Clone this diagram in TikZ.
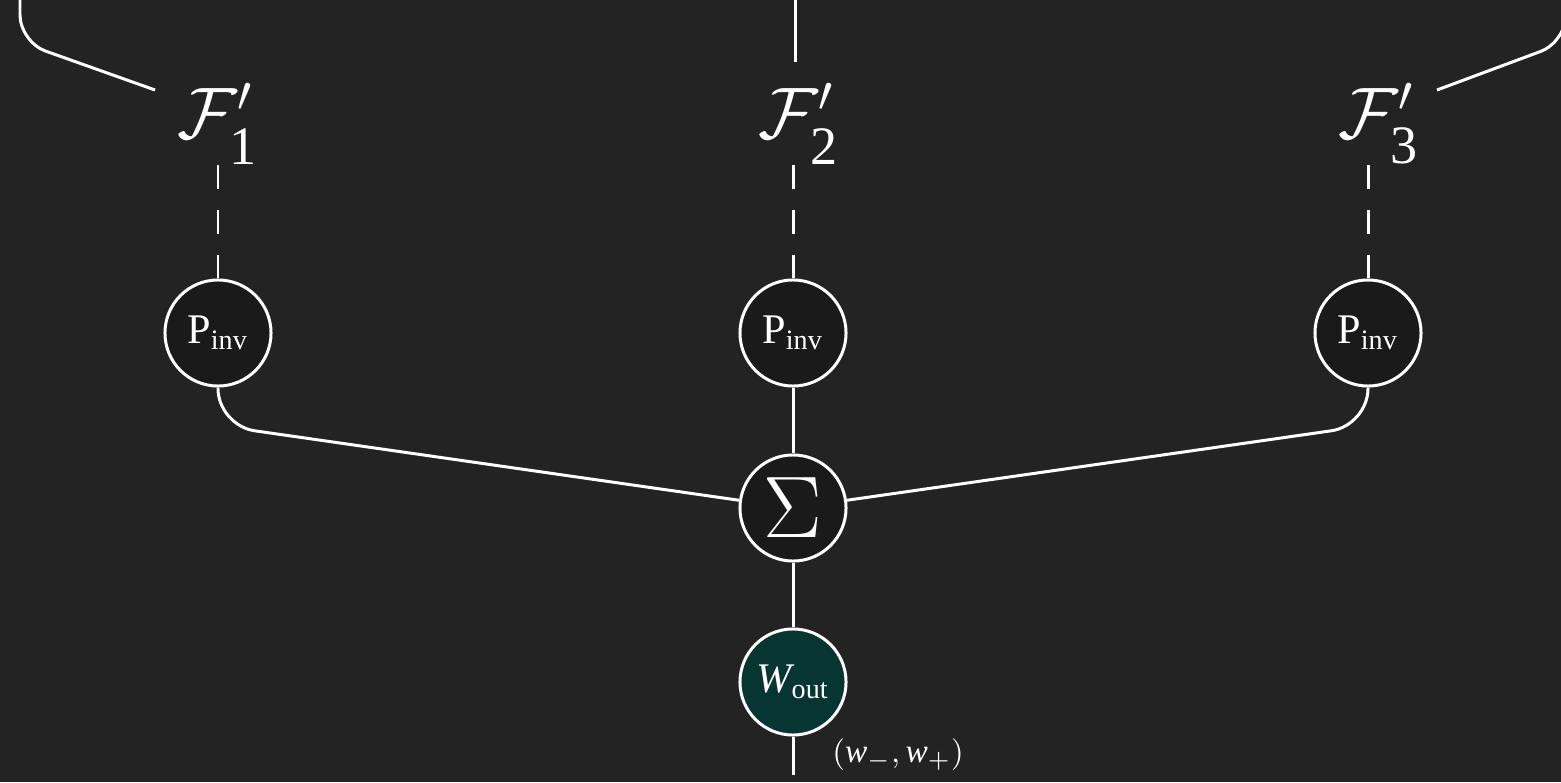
\documentclass[tikz,border=0pt]{standalone}
\usepackage{fontspec}
\setmainfont{Liberation Serif}

\definecolor{bgdark}{HTML}{232323}
\definecolor{nodefill}{HTML}{1A1A1A}
\definecolor{outteal}{HTML}{063532}

\newcommand{\featlabel}[1]{$\mathcal{F}'_{\raisebox{-2.2pt}{$\scriptstyle\mathrm{#1}$}}$}

\begin{document}
\begin{tikzpicture}[x=0.01cm,y=-0.01cm,
    wire/.style={white,line width=0.85pt},
    unit/.style={circle,draw=white,line width=0.85pt,fill=nodefill,
        minimum size=1.06cm,inner sep=0pt,text=white,
        font=\fontsize{12}{14}\selectfont},
    flabel/.style={text=white,inner sep=0pt,font=\fontsize{22}{26}\selectfont},
]
    \fill[bgdark] (0,0) rectangle (1561,782);
    \path[use as bounding box] (0,0) rectangle (1561,782);
    \clip (0,0) rectangle (1561,782);

    % feature labels
    \node[flabel] (f1) at (218,124) {\featlabel{1}};
    \node[flabel] (f2) at (799,124) {\featlabel{2}};
    \node[flabel] (f3) at (1379,124) {\featlabel{3}};

    % incoming wires from above
    \coordinate (a1) at (155,90);
    \coordinate (a2) at (795,62);
    \coordinate (a3) at (1437,90);
    \draw[wire,rounded corners=0.27cm] (a1) -- (20,42) -- (20,-10);
    \draw[wire] (a2) -- (795,-10);
    \draw[wire,rounded corners=0.27cm] (a3) -- (1566,42) -- (1566,-10);

    % invariant pooling
    \foreach \k/\x in {1/218,2/793,3/1368} {
        \node[unit] (p\k) at (\x,333) {$\mathrm{P}_{\mathrm{inv}}$};
        \draw[wire,dash pattern=on 0.24cm off 0.21cm]
            (p\k.north |- f\k.south) -- (p\k.north);
    }

    \node[unit,font=\fontsize{23}{28}\selectfont] (sigma) at (793,508) {$\Sigma$};
    \node[unit,fill=outteal] (wout) at (793,682) {$\mathit{W}_{\mathrm{out}}$};
    \coordinate (out) at (793,775);

    \draw[wire,rounded corners=0.37cm] (p1.south) -- ++(0,38) -- (sigma);
    \draw[wire,rounded corners=0.37cm] (p3.south) -- ++(0,38) -- (sigma);
    \draw[wire] (p2) -- (sigma);
    \draw[wire] (sigma) -- (wout);
    \draw[wire] (wout) -- (out);

    \node[text=white,font=\fontsize{9.5}{12}\selectfont,anchor=west] (wlab)
        at (820,755) {$(\mathit{w}_-,\mathit{w}_+)$};
\end{tikzpicture}
\end{document}
